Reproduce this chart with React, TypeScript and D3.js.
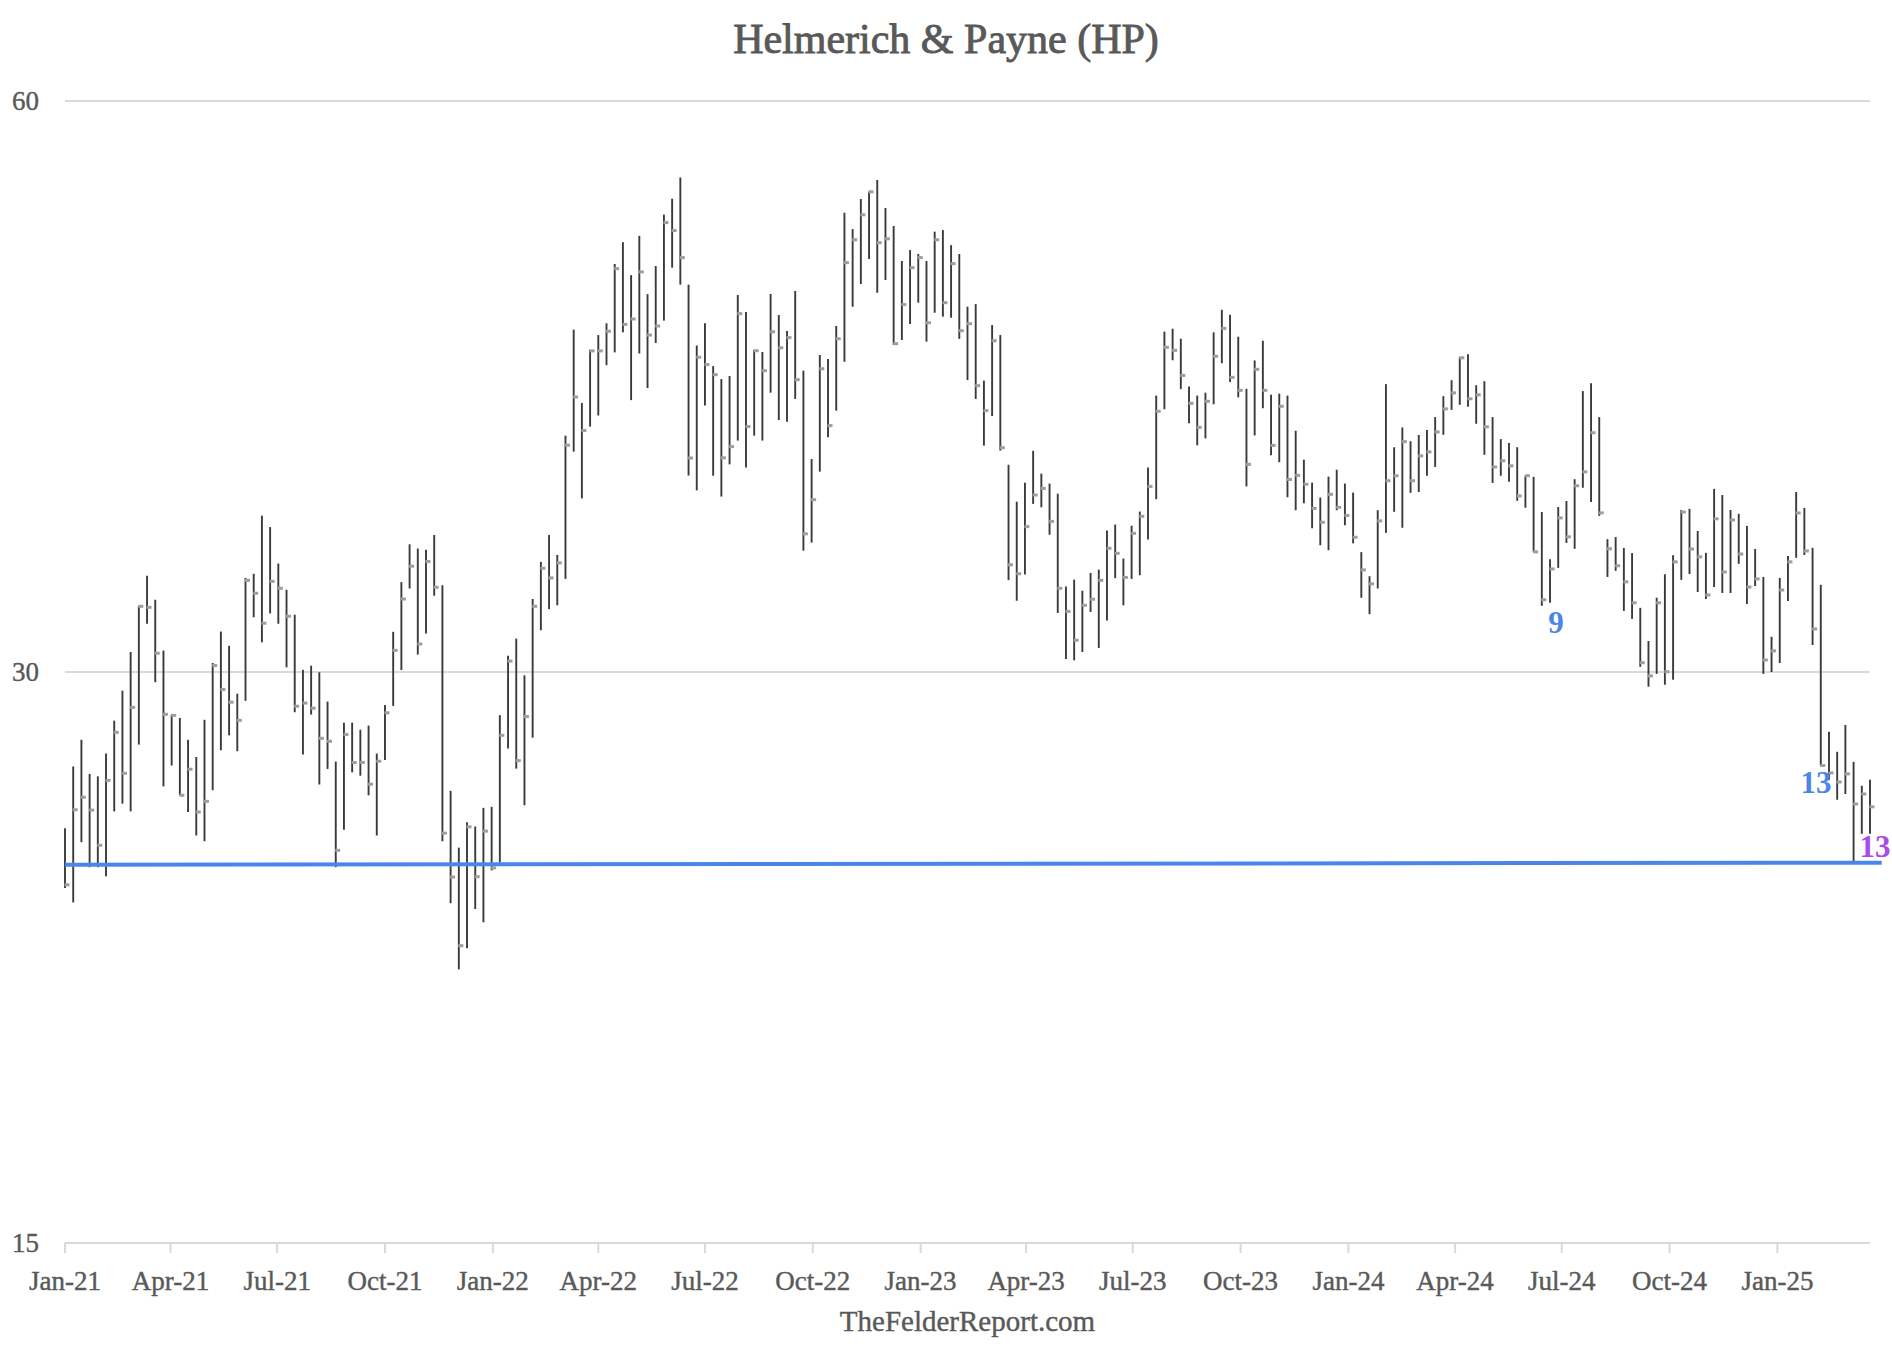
import * as d3 from "d3";
import React, { useEffect, useRef } from "react";

// weekly HLC bars (first week = Jan 1 2021)
const highs = [
  24.82, 26.75, 27.63, 26.51, 26.43, 27.17, 28.28, 29.33, 30.74, 32.49,
  33.72, 32.75, 30.79, 28.49, 28.37, 27.63, 27.06, 28.31, 30.33, 31.51,
  30.97, 29.22, 33.63, 33.8, 36.27, 35.77, 34.22, 33.15, 32.16, 30.08,
  30.23, 29.99, 28.94, 26.91, 28.21, 28.21, 27.97, 28.11, 27.17,
  28.82, 31.5, 33.46, 35.03, 34.85, 34.8, 35.43, 33.33, 25.97, 24.24,
  25.0, 24.87, 25.44, 25.47, 28.47, 30.6, 31.24, 29.88, 32.78, 34.29,
  35.43, 34.58, 39.97, 45.46, 41.59, 44.36, 45.16, 45.81, 49.23, 50.55,
  48.57, 50.94, 47.46, 49.11, 52.27, 53.29, 54.68, 48.01, 44.59, 45.81,
  43.49, 42.81, 42.97, 47.41, 46.44, 44.35, 44.24, 47.47, 46.27, 45.38,
  47.64, 43.25, 38.85, 44.08, 43.86, 45.66, 52.39, 51.36, 53.27, 53.74,
  54.51, 52.69, 51.55, 49.41, 50.07, 49.83, 49.41, 51.2, 51.3, 50.37,
  49.83, 46.74, 46.89, 42.73, 45.71, 45.16, 38.58, 36.89, 37.75, 39.24,
  38.17, 37.71, 37.25, 33.28, 33.56, 33.11, 33.83, 33.97, 35.62, 35.88,
  34.43, 35.83, 36.45, 38.45, 41.96, 45.35, 45.51, 44.96, 42.42, 41.96,
  42.11, 45.31, 46.57, 46.29, 45.07, 42.31, 43.79, 44.85, 42.01, 42.06,
  41.96, 40.21, 38.82, 37.75, 37.08, 38.03, 38.35, 37.71, 37.3,
  34.7, 33.7, 36.51, 42.55, 39.41, 40.37, 39.7, 40.0, 40.24, 40.88,
  41.93, 42.75, 43.98, 44.12, 42.49, 42.7, 40.88, 39.8, 39.61, 39.41,
  38.07, 38.02, 36.43, 34.4, 36.65, 36.92, 37.91, 42.19, 42.6, 40.88,
  35.25, 35.34, 34.87, 34.66, 32.43, 31.15, 32.83, 33.78, 34.57,
  36.52, 36.57, 35.6, 34.67, 37.47, 37.19, 36.52, 36.35, 35.82, 34.83,
  33.67, 31.31, 33.63, 34.54, 37.33, 36.61, 34.88, 33.35, 27.9, 27.23,
  28.13, 26.9, 26.13, 26.32,
];

const lows = [
  23.08, 22.68, 24.4, 23.67, 23.67, 23.41, 25.33, 25.57, 25.33, 27.47,
  31.81, 29.63, 26.11, 26.78, 25.83, 25.31, 24.6, 24.43, 25.99, 27.28,
  27.78, 27.25, 28.97, 32.06, 31.1, 32.21, 31.81, 30.17, 28.57, 27.14,
  28.49, 26.17, 26.67, 23.67, 24.77, 26.56, 26.45, 25.83, 24.6,
  26.96, 28.79, 30.07, 33.2, 30.64, 31.44, 32.91, 24.43, 22.66, 20.91,
  21.45, 22.5, 22.14, 23.58, 23.81, 27.34, 26.68, 25.52, 27.7, 31.56,
  32.38, 32.53, 33.59, 39.2, 37.04, 40.41, 40.96, 43.54, 44.22, 45.31,
  41.73, 44.16, 42.35, 44.73, 45.96, 49.01, 48.01, 38.08, 37.4, 41.46,
  38.07, 37.12, 38.6, 39.73, 38.45, 39.97, 39.73, 42.11, 40.73, 40.65,
  41.79, 34.76, 35.1, 38.26, 39.89, 41.2, 43.72, 46.74, 48.05, 49.53,
  47.54, 48.28, 44.62, 44.89, 45.77, 46.97, 44.8, 46.4, 46.18, 46.12,
  44.95, 42.76, 41.79, 39.49, 40.93, 39.25, 33.54, 32.71, 33.77, 36.79,
  36.64, 35.44, 32.23, 30.48, 30.43, 30.74, 32.27, 30.89, 31.94, 33.62,
  32.53, 33.59, 33.74, 35.24, 37.0, 41.27, 43.8, 42.29, 40.57, 39.5,
  39.84, 41.52, 43.64, 42.66, 41.87, 37.58, 39.98, 41.32, 39.03, 38.7,
  37.09, 36.51, 36.82, 35.72, 34.99, 34.78, 36.51, 35.85, 35.07,
  32.83, 32.18, 33.2, 35.52, 36.44, 35.74, 37.29, 37.33, 38.07, 38.48,
  40.01, 41.24, 41.49, 41.39, 40.55, 39.05, 37.74, 38.07, 37.79, 36.93,
  36.62, 34.71, 32.51, 32.63, 34.04, 35.09, 34.84, 37.52, 36.88, 36.26,
  33.67, 33.92, 32.31, 32.0, 30.19, 29.47, 29.93, 29.54, 29.72,
  33.55, 33.79, 33.06, 32.78, 33.26, 33.02, 33.02, 34.21, 32.58, 33.3,
  29.93, 30.0, 30.33, 32.7, 34.46, 34.58, 31.0, 26.78, 26.32, 25.69,
  25.87, 23.85, 24.65, 24.65,
];

const closes = [
  23.17, 25.38, 25.77, 25.37, 24.31, 26.3, 27.88, 26.53, 28.74, 32.49,
  32.45, 30.69, 28.5, 28.46, 25.83, 26.66, 25.31, 25.64, 30.24, 29.37,
  28.92, 28.29, 33.53, 33.01, 31.83, 33.49, 33.21, 32.1, 28.78, 28.89,
  28.71, 27.68, 27.58, 24.16, 27.81, 26.88, 26.88, 26.18, 26.92,
  28.55, 30.8, 32.78, 34.11, 31.04, 34.31, 33.25, 24.67, 23.39, 21.52,
  24.86, 23.4, 24.73, 23.65, 27.78, 30.4, 26.94, 28.42, 32.49, 34.03,
  33.63, 34.25, 39.51, 41.89, 40.22, 44.3, 44.3, 45.37, 48.95, 45.75,
  46.05, 48.76, 45.16, 45.66, 51.77, 51.27, 49.61, 38.9, 43.96, 43.57,
  43.04, 38.91, 39.44, 46.35, 40.41, 44.31, 43.25, 45.34, 44.47, 45.02,
  42.78, 35.48, 36.98, 43.35, 40.46, 44.96, 49.31, 50.7, 52.26, 53.74,
  50.52, 50.76, 44.69, 46.86, 49.01, 49.61, 45.84, 50.7, 46.97, 49.25,
  45.4, 45.79, 42.47, 41.2, 44.85, 39.39, 34.17, 33.8, 35.79, 37.19,
  37.49, 36.02, 33.21, 32.29, 31.18, 32.53, 32.77, 33.53, 34.86, 34.65,
  33.65, 35.5, 36.24, 37.58, 41.17, 44.49, 44.33, 43.0, 41.57, 40.37,
  41.67, 44.01, 45.53, 42.9, 42.23, 38.6, 43.32, 42.23, 39.5, 41.42,
  37.9, 38.09, 37.68, 36.59, 35.98, 37.22, 36.64, 36.28, 35.33,
  33.96, 33.39, 36.04, 37.84, 38.07, 39.68, 37.84, 39.0, 39.19, 40.15,
  41.29, 42.1, 43.93, 41.8, 42.0, 40.4, 38.48, 38.77, 38.53, 37.15,
  38.07, 34.71, 32.75, 34.0, 36.17, 35.35, 37.61, 38.25, 40.11, 36.39,
  34.84, 34.13, 33.47, 32.63, 30.34, 29.86, 32.63, 30.01, 34.29,
  36.43, 34.83, 34.5, 32.94, 36.13, 33.87, 36.08, 34.62, 33.26, 33.59,
  30.44, 30.78, 33.14, 34.29, 36.39, 34.75, 31.61, 26.78, 26.54, 26.25,
  26.51, 25.56, 25.87, 25.47,
];

const yTicks = [15, 30, 60];
const xTickLabels = [
  "Jan-21", "Apr-21", "Jul-21", "Oct-21",
  "Jan-22", "Apr-22", "Jul-22", "Oct-22",
  "Jan-23", "Apr-23", "Jul-23", "Oct-23",
  "Jan-24", "Apr-24", "Jul-24", "Oct-24",
  "Jan-25",
];

// support line end points
const supportLine = [
  { date: "2021-01-01", price: 23.74 },
  { date: "2025-03-31", price: 23.8 },
];

// sequential count labels
const countLabels = [
  { text: "9", date: "2024-06-26", price: 31.47, color: "#4a86e8", anchor: "middle" },
  { text: "13", date: "2025-02-03", price: 25.9, color: "#4a86e8", anchor: "middle" },
  { text: "13", date: "2025-03-12", price: 23.98, color: "#a94be6", anchor: "start" },
];

const W = 1892;
const H = 1368;
const FONT = "'Liberation Serif', 'DejaVu Serif', serif";

const App = () => {
  const svgRef = useRef(null);

  useEffect(() => {
    const svg = d3.select(svgRef.current);
    svg.selectAll("*").remove();
    svg.attr("width", W).attr("height", H).style("background", "#fff");

    const parse = d3.timeParse("%Y-%m-%d");
    const firstWeek = new Date(2021, 0, 1);
    const dates = highs.map((_, i) => d3.timeDay.offset(firstWeek, 7 * i));

    const x = d3
      .scaleTime()
      .domain([firstWeek, dates[dates.length - 1]])
      .range([65, 1870]);
    const y = d3.scaleLog().domain([15, 60]).range([1243, 101]);

    // gridlines
    svg
      .append("g")
      .selectAll("line")
      .data(yTicks)
      .join("line")
      .attr("x1", 65)
      .attr("x2", 1870)
      .attr("y1", (d) => y(d))
      .attr("y2", (d) => y(d))
      .attr("stroke", "#d9d9d9")
      .attr("stroke-width", 2);

    svg
      .append("g")
      .selectAll("text")
      .data(yTicks)
      .join("text")
      .attr("x", 39)
      .attr("y", (d) => y(d) + 9)
      .attr("text-anchor", "end")
      .style("font-family", FONT)
      .style("font-size", "27px")
      .style("fill", "#595959")
      .style("stroke", "#595959")
      .style("stroke-width", 0.4)
      .text((d) => d);

    // x axis ticks
    const tickParse = d3.timeParse("%b-%y");
    const tickDates = xTickLabels.map((l) => tickParse(l) as Date);
    const xAxis = svg.append("g");
    xAxis
      .selectAll("line")
      .data(tickDates)
      .join("line")
      .attr("x1", (d) => x(d))
      .attr("x2", (d) => x(d))
      .attr("y1", y(15))
      .attr("y2", y(15) + 10)
      .attr("stroke", "#d9d9d9")
      .attr("stroke-width", 2);
    xAxis
      .selectAll("text")
      .data(xTickLabels)
      .join("text")
      .attr("x", (_d, i) => x(tickDates[i]))
      .attr("y", 1290)
      .attr("text-anchor", "middle")
      .style("font-family", FONT)
      .style("font-size", "27px")
      .style("fill", "#595959")
      .style("stroke", "#595959")
      .style("stroke-width", 0.4)
      .text((d) => d);

    // high-low bars
    const bars = svg.append("g");
    bars
      .selectAll("line")
      .data(dates)
      .join("line")
      .attr("x1", (d) => x(d))
      .attr("x2", (d) => x(d))
      .attr("y1", (_d, i) => y(highs[i]))
      .attr("y2", (_d, i) => y(lows[i]))
      .attr("stroke", "#3a3a3a")
      .attr("stroke-width", 1.9);

    // close markers
    bars
      .selectAll("rect")
      .data(dates)
      .join("rect")
      .attr("x", (d) => x(d) - 0.5)
      .attr("y", (_d, i) => y(closes[i]) - 1.5)
      .attr("width", 5)
      .attr("height", 3)
      .attr("fill", "#9e9e9e");

    // support line
    svg
      .append("line")
      .attr("x1", x(parse(supportLine[0].date) as Date))
      .attr("y1", y(supportLine[0].price))
      .attr("x2", x(parse(supportLine[1].date) as Date))
      .attr("y2", y(supportLine[1].price))
      .attr("stroke", "#4a86e8")
      .attr("stroke-width", 4);

    // counts
    svg
      .append("g")
      .selectAll("text")
      .data(countLabels)
      .join("text")
      .attr("x", (d) => x(parse(d.date) as Date))
      .attr("y", (d) => y(d.price))
      .attr("text-anchor", (d) => d.anchor)
      .style("font-family", FONT)
      .style("font-size", "31px")
      .style("font-weight", "bold")
      .style("fill", (d) => d.color)
      .text((d) => d.text);

    // title + footer
    svg
      .append("text")
      .attr("x", W / 2)
      .attr("y", 53)
      .attr("text-anchor", "middle")
      .style("font-family", FONT)
      .style("font-size", "42px")
      .style("fill", "#595959")
      .style("stroke", "#595959")
      .style("stroke-width", 0.9)
      .text("Helmerich & Payne (HP)");

    svg
      .append("text")
      .attr("x", (65 + 1870) / 2)
      .attr("y", 1331)
      .attr("text-anchor", "middle")
      .style("font-family", FONT)
      .style("font-size", "29px")
      .style("fill", "#595959")
      .style("stroke", "#595959")
      .style("stroke-width", 0.4)
      .text("TheFelderReport.com");
  }, []);

  return (
    <div style={{ position: "absolute", left: 0, top: 0 }}>
      <svg ref={svgRef}></svg>
    </div>
  );
};

export default App;
